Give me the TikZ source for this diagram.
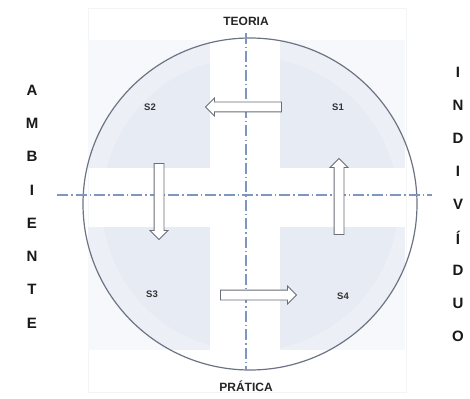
\documentclass[tikz,border=0pt]{standalone}
\usepackage{fontspec}
\setmainfont{Liberation Sans}
\usetikzlibrary{shapes.arrows}
\definecolor{quad}{HTML}{E7EBF4}
\definecolor{quadout}{HTML}{F7F8FB}
\definecolor{axis}{HTML}{7F96BE}
\definecolor{rim}{HTML}{6C7484}
\definecolor{arrowline}{HTML}{6A6E76}
\definecolor{frameline}{HTML}{F3F4F7}
\tikzset{
  blockarrow/.style={single arrow, draw=arrowline, fill=white, line width=0.9pt,
    minimum height=76pt, minimum width=0pt, single arrow head extend=4pt,
    single arrow head indent=0pt, inner sep=4.5pt},
  axisline/.style={draw=axis, line width=1.1pt,
    dash pattern=on 11pt off 3pt on 1.5pt off 3pt},
  title/.style={font=\bfseries\fontsize{12}{13}\selectfont, text=black!85},
  sidelabel/.style={font=\bfseries\fontsize{15}{16}\selectfont, text=black!90},
  quadlabel/.style={font=\bfseries\fontsize{9.5}{10}\selectfont, text=black!80}
}
\begin{document}
\begin{tikzpicture}[x=1pt,y=-1pt]
\useasboundingbox (0,0) rectangle (470,398);
\fill[white] (0,0) rectangle (470,398);

% faint frame behind the diagram
\draw[frameline, line width=0.7pt] (88,8) rectangle (406,392);

% quadrant panels, lighter outside the circle
\fill[quadout] (88,40) rectangle (210,168);
\fill[quadout] (280,40) rectangle (405,168);
\fill[quadout] (88,227) rectangle (210,350);
\fill[quadout] (280,227) rectangle (405,350);
\begin{scope}
  \clip (250,204) ellipse [x radius=167, y radius=166];
  \fill[quad] (88,40) rectangle (210,168);
  \fill[quad] (280,40) rectangle (405,168);
  \fill[quad] (88,227) rectangle (210,350);
  \fill[quad] (280,227) rectangle (405,350);
  % soft white rim just inside the circle
  \foreach \i in {0,...,9}
    \draw[white, line width=2.2pt, opacity=0.22]
      (250,204) ellipse [x radius=167-2*\i, y radius=166-2*\i];
\end{scope}

% outer circle
\draw[rim, line width=1.2pt] (250,204) ellipse [x radius=167, y radius=166];

% axes
\coordinate (hl) at (57,195);
\coordinate (hr) at (432,195);
\coordinate (vt) at (246,33);
\coordinate (vb) at (246,370);
\draw[axisline] (hl) -- (hr);
\draw[axisline] (vt) -- (vb);

% axis titles
\node[title] (teoria) at (246,21) {TEORIA};
\node[title] (pratica) at (246,386) {PRÁTICA};

% side words, one letter per line
\foreach \c [count=\k from 0] in {A,M,B,I,E,N,T,E}
  \node[sidelabel] (amb\k) at (32,90+33.3*\k) {\c};
\foreach \c [count=\k from 0] in {I,N,D,I,V,Í,D,U,O}
  \node[sidelabel] (ind\k) at (458,72+33.1*\k) {\c};

% quadrant labels
\node[quadlabel] (s1) at (338,107) {S1};
\node[quadlabel] (s2) at (150,107) {S2};
\node[quadlabel] (s3) at (152,294) {S3};
\node[quadlabel] (s4) at (343,296) {S4};

% cycle arrows
\node[blockarrow, shape border rotate=180] (a12) at (246,107) {};
\node[blockarrow, shape border rotate=270] (a23) at (159,199) {};
\node[blockarrow, shape border rotate=0] (a34) at (256,295) {};
\node[blockarrow, shape border rotate=90] (a41) at (339,199) {};
\end{tikzpicture}
\end{document}
